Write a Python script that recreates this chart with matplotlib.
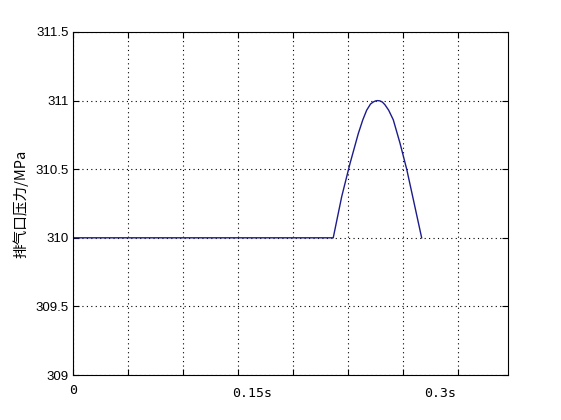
import matplotlib
matplotlib.use("Agg")
import matplotlib.pyplot as plt

# Data
time_s = [0.0, 0.2366, 0.2443, 0.2518, 0.2594, 0.2635, 0.2670, 0.2705, 0.2730,
          0.2752, 0.2770, 0.2790, 0.2812, 0.2836, 0.2870, 0.2912, 0.2973,
          0.3034, 0.3094, 0.3170]
pressure_mpa = [310.0, 310.0, 310.30, 310.54, 310.76, 310.86, 310.93, 310.975, 310.99,
                310.998, 311.0, 310.998, 310.99, 310.97, 310.93, 310.86, 310.69,
                310.50, 310.28, 310.0]

x_ticks = [0.0, 0.05, 0.10, 0.15, 0.20, 0.25, 0.30, 0.35]
y_ticks = [309, 309.5, 310, 310.5, 311, 311.5]
y_tick_labels = ["309", "309.5", "310", "310.5", "311", "311.5"]
x_text_labels = ["0.15s", "0.3s"]
x_text_pos = [0.1627, 0.3336]
y_label = "排气口压力/MPa"

plt.rcParams['font.family'] = ['Liberation Sans', 'DejaVu Sans']

fig = plt.figure(figsize=(5.61, 4.20), dpi=100)
ax = fig.add_axes([73/561, 45/420, 435/561, 343/420])

ax.plot(time_s, pressure_mpa, color='#1c1c8a', linewidth=1.0)

ax.set_xlim(0, 0.3955)
ax.set_ylim(309, 311.5)
ax.set_xticks(x_ticks)
ax.set_xticklabels([""] * len(x_ticks))
ax.set_yticks(y_ticks)
ax.set_yticklabels(y_tick_labels, fontsize=9.5)
ax.tick_params(direction='in', top=True, right=True, length=4, width=0.8, pad=3)
ax.grid(True, color='black', linestyle=(0, (1, 3)), linewidth=0.8)
for s in ax.spines.values():
    s.set_linewidth(0.8)

mono = ['DejaVu Sans Mono']
ax.text(0.0, -0.025, "0", transform=ax.get_xaxis_transform(), ha='center', va='top',
        fontsize=9.5, family=mono)
for lab, xp in zip(x_text_labels, x_text_pos):
    ax.text(xp, -0.035, lab, transform=ax.get_xaxis_transform(), ha='center', va='top',
            fontsize=9.5, family=mono)

fig.text(21/561, 0.5 + (420/2 - 204)/420, y_label, rotation=90, ha='center', va='center',
         fontsize=10.5, family=['Noto Sans CJK SC', 'DejaVu Sans'])

fig.savefig("out.png", dpi=100)
